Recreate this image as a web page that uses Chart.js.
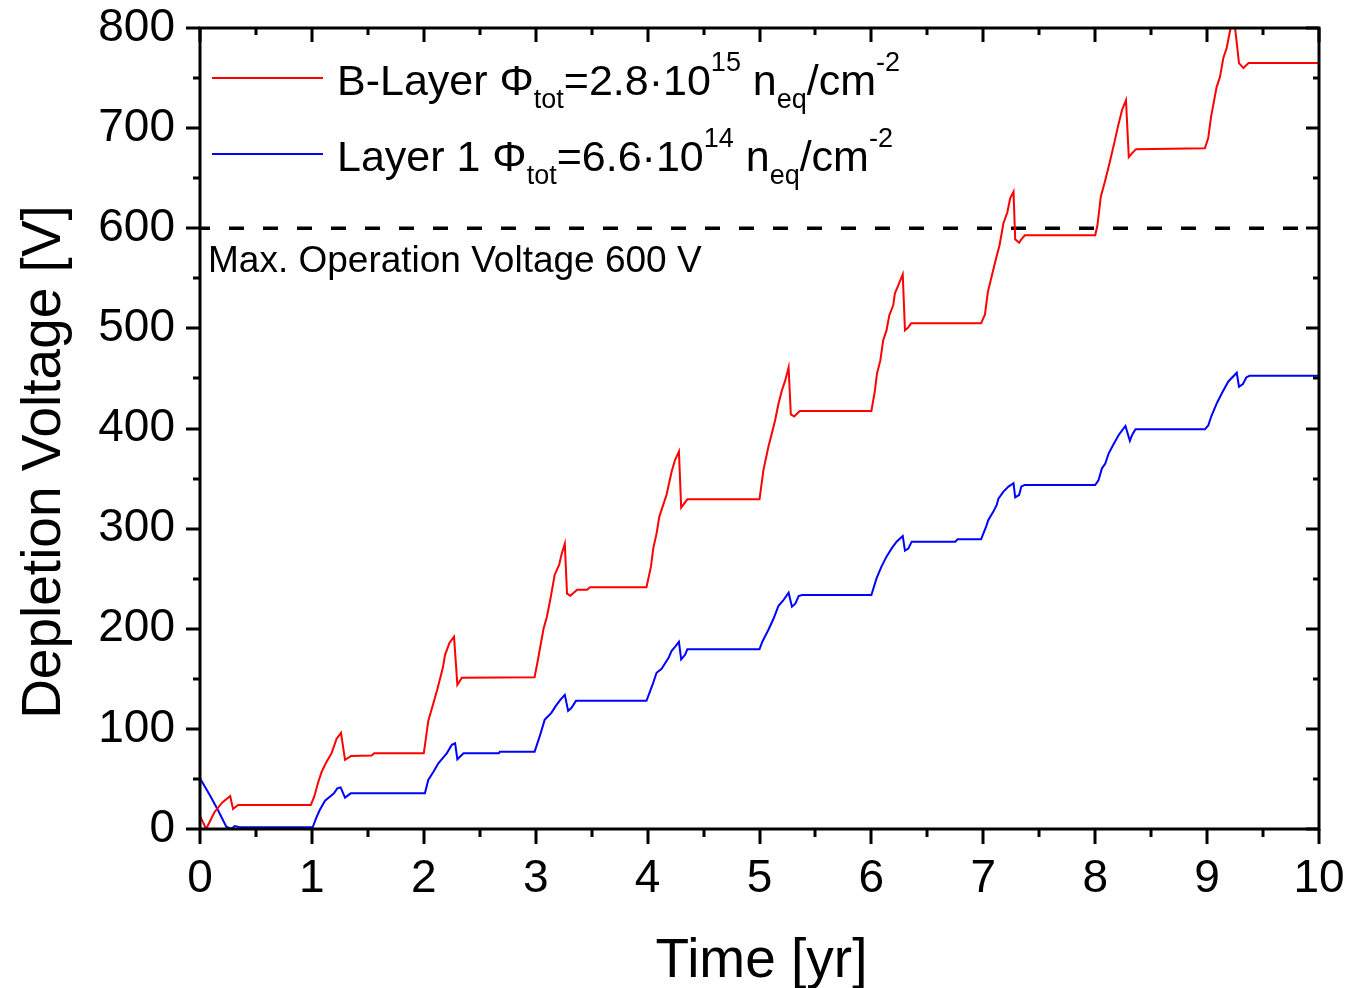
<html>

<head>
  <title>Depletion Voltage vs Time</title>
  <style>
    body {
      margin: 0;
      background: #fff;
    }
    .canvas {
      width: 1349px;
      height: 988px;
      position: relative;
    }
  </style>
  <script src="https://cdn.jsdelivr.net/npm/chart.js@4.4.1/dist/chart.umd.min.js"></script>
</head>

<body>
  <div class="canvas">
    <canvas id="chart"></canvas>
  </div>

  <script>
    // B-Layer depletion voltage [V] against time [yr]
    const bLayerTime = [0.0, 0.055, 0.13, 0.2, 0.27, 0.295, 0.34, 0.99, 1.02, 1.057, 1.087, 1.13, 1.177, 1.22, 1.26, 1.296, 1.35, 1.534, 1.557,
      2.0, 2.04, 2.12, 2.17, 2.19, 2.23, 2.27, 2.30, 2.34, 2.99, 3.02, 3.07, 3.10, 3.13, 3.17, 3.21, 3.23, 3.26, 3.28, 3.31, 3.37, 3.46, 3.485,
      3.99, 4.03, 4.05, 4.08, 4.105, 4.17, 4.215, 4.245, 4.28, 4.30, 4.32, 4.355, 5.0, 5.035, 5.08, 5.11, 5.14, 5.17, 5.2, 5.23, 5.26, 5.28, 5.31, 5.36,
      6.0, 6.03, 6.05, 6.08, 6.105, 6.135, 6.16, 6.195, 6.21, 6.24, 6.28, 6.30, 6.33, 6.355, 6.98, 7.015, 7.04, 7.075, 7.11, 7.145, 7.18, 7.215, 7.24, 7.27,
      7.285, 7.32, 7.34, 7.37, 8.0, 8.02, 8.05, 8.09, 8.13, 8.17, 8.2, 8.24, 8.275, 8.30, 8.33, 8.365, 8.98, 9.01, 9.035, 9.085, 9.115, 9.145, 9.175,
      9.21, 9.235, 9.285, 9.325, 9.37, 10.0];
    const bLayerVolt = [13, 0, 17, 26.6, 33, 20, 24, 24, 32, 47, 57, 67, 76, 90, 96, 69, 73, 73.5, 75.6,
      75.6, 108, 139, 161, 174, 186, 192, 144, 151, 151.5, 169, 200, 212, 229, 254, 264, 274, 285, 235, 233, 239, 239, 241.4,
      241.4, 262, 280, 295, 312, 334, 357, 368.5, 377, 321, 324, 329.3, 329.3, 358.5, 382, 395, 408.5, 425, 438, 448, 461, 414, 412, 417.5,
      417.5, 436.7, 455, 468, 488, 498, 513, 523, 535, 543, 554, 498, 501, 505, 505, 514, 536, 552, 568, 583, 605, 616, 630, 636.5,
      589, 585.5, 589, 593, 593, 603, 631.5, 648, 666, 685, 700, 718, 728, 671, 675, 679, 679.8, 690, 711, 741, 751, 770, 780,
      800, 815, 765, 760, 765, 765];

    // Layer 1 depletion voltage [V] against time [yr]
    const layer1Time = [0.0, 0.087, 0.16, 0.235, 0.28, 0.31, 0.355, 1.007, 1.037, 1.07, 1.117, 1.16, 1.197, 1.227, 1.257, 1.296, 1.347,
      2.01, 2.04, 2.085, 2.13, 2.175, 2.205, 2.25, 2.28, 2.30, 2.355, 2.67, 2.68, 2.99, 3.04, 3.08, 3.14, 3.18, 3.22, 3.26, 3.29, 3.32, 3.36,
      3.99, 4.02, 4.05, 4.08, 4.125, 4.185, 4.215, 4.245, 4.28, 4.30, 4.335, 4.355, 5.0, 5.025, 5.08, 5.125, 5.17, 5.21, 5.26, 5.29, 5.32, 5.35, 5.38,
      6.0, 6.045, 6.09, 6.135, 6.18, 6.225, 6.28, 6.30, 6.33, 6.36, 6.75, 6.77, 6.98, 7.025, 7.045, 7.09, 7.12, 7.135, 7.18, 7.225, 7.27,
      7.285, 7.32, 7.34, 7.37, 8.0, 8.03, 8.06, 8.09, 8.12, 8.16, 8.21, 8.27, 8.31, 8.33, 8.36, 8.98, 9.01, 9.04, 9.09, 9.14, 9.19, 9.265,
      9.285, 9.32, 9.35, 9.38, 10.0];
    const layer1Volt = [50.6, 34, 19, 2.3, 0, 3, 1.7, 1.7, 10.7, 19, 28.3, 32.3, 35.6, 40.6, 41.6, 31.3, 35.6,
      35.6, 49, 57, 65.6, 71.6, 75.6, 84, 85.6, 69.6, 75.6, 75.6, 77.2, 77.2, 94, 109, 116, 123, 129, 134, 118, 121, 128,
      128, 137, 146, 156, 160, 170.5, 178, 182, 187, 169.5, 174, 179.5, 179.5, 187, 199, 210, 223, 228, 236, 222, 225, 232.7, 233.7,
      233.7, 250, 262, 272, 280, 287, 292.6, 278, 280, 287, 287, 289.3, 289.3, 302, 308.6, 317, 323.6, 330, 337, 342, 345.3,
      331.3, 333.6, 342, 343.6, 343.6, 348.5, 360, 365, 375, 383.5, 393.5, 402.5, 387.7, 393.5, 399.2, 399.2, 403, 413, 426, 437, 447, 455.7,
      441.7, 444.4, 451, 452.7, 452.7];

    const maxVoltage = 600;
    const maxVoltageLabel = 'Max. Operation Voltage 600 V';
    const xTitle = 'Time [yr]';
    const yTitle = 'Depletion Voltage [V]';

    // legend text pieces: [text, kind]
    const bLayerLabel = [['B-Layer ', 'n'], ['\u03A6', 'n'], ['tot', 'sub'], ['=2.8\u00B710', 'n'], ['15', 'sup'], [' n', 'n'], ['eq', 'sub'], ['/cm', 'n'], ['-2', 'sup']];
    const layer1Label = [['Layer 1 ', 'n'], ['\u03A6', 'n'], ['tot', 'sub'], ['=6.6\u00B710', 'n'], ['14', 'sup'], [' n', 'n'], ['eq', 'sub'], ['/cm', 'n'], ['-2', 'sup']];

    const FONT = '"Liberation Sans", Arial, sans-serif';
    const colors = { red: '#ff0000', blue: '#0000ff', black: '#000000' };

    const toPoints = (xs, ys) => xs.map((x, i) => ({ x, y: ys[i] }));

    function drawRich(ctx, x, y, parts) {
      ctx.textAlign = 'left';
      ctx.textBaseline = 'alphabetic';
      parts.forEach(([txt, kind]) => {
        const size = kind === 'n' ? 43 : 27;
        const dy = kind === 'sub' ? 13 : kind === 'sup' ? -24 : 0;
        ctx.font = size + 'px ' + FONT;
        ctx.fillText(txt, x, y + dy);
        x += ctx.measureText(txt).width;
      });
    }

    // box, mirrored ticks, titles, legend and limit label
    const decorations = {
      id: 'decorations',
      afterDatasetsDraw(chart) {
        const { ctx, chartArea: a, scales } = chart;
        const xs = scales.x;
        const ys = scales.y;
        ctx.save();
        ctx.strokeStyle = colors.black;
        ctx.lineWidth = 3;
        ctx.lineCap = 'butt';
        ctx.beginPath();
        for (let v = 0; v <= 10.001; v += 0.5) {
          const px = Math.round(xs.getPixelForValue(v));
          const major = Math.abs(v - Math.round(v)) < 1e-6;
          const out = major ? 15 : 8;
          const inn = major ? 14 : 7;
          ctx.moveTo(px, a.bottom);
          ctx.lineTo(px, a.bottom + out);
          ctx.moveTo(px, a.top);
          ctx.lineTo(px, a.top + inn);
        }
        for (let v = 0; v <= 800; v += 50) {
          const py = Math.round(ys.getPixelForValue(v));
          const major = v % 100 === 0;
          const out = major ? 14 : 7;
          const inn = major ? 13 : 6;
          ctx.moveTo(a.left, py);
          ctx.lineTo(a.left - out, py);
          ctx.moveTo(a.right, py);
          ctx.lineTo(a.right - inn, py);
        }
        ctx.stroke();
        ctx.strokeRect(a.left, a.top, a.right - a.left, a.bottom - a.top);

        ctx.fillStyle = colors.black;
        // limit label under the dashed line
        ctx.font = '37px ' + FONT;
        ctx.textAlign = 'left';
        ctx.textBaseline = 'alphabetic';
        ctx.fillText(maxVoltageLabel, a.left + 8, ys.getPixelForValue(maxVoltage) + 44);

        // axis titles
        ctx.font = '55px ' + FONT;
        ctx.textAlign = 'center';
        ctx.fillText(xTitle, (a.left + a.right) / 2 + 2, 977);
        ctx.save();
        ctx.translate(60, 462);
        ctx.rotate(-Math.PI / 2);
        ctx.fillText(yTitle, 0, 0);
        ctx.restore();

        // legend
        const entries = [[colors.red, bLayerLabel], [colors.blue, layer1Label]];
        entries.forEach(([c, parts], i) => {
          const ly = a.top + 50 + i * 76;
          ctx.strokeStyle = c;
          ctx.lineWidth = 2;
          ctx.beginPath();
          ctx.moveTo(a.left + 12, ly);
          ctx.lineTo(a.left + 123, ly);
          ctx.stroke();
          ctx.fillStyle = colors.black;
          drawRich(ctx, a.left + 137, ly + 17, parts);
        });
        ctx.restore();
      }
    };

    window.chartObj = new Chart(document.querySelector('canvas#chart'), {
      type: 'line',
      data: {
        datasets: [{
            label: 'B-Layer',
            data: toPoints(bLayerTime, bLayerVolt),
            borderColor: colors.red,
            backgroundColor: colors.red,
            borderWidth: 2,
            pointRadius: 0,
            fill: false,
          },
          {
            label: 'Layer 1',
            data: toPoints(layer1Time, layer1Volt),
            borderColor: colors.blue,
            backgroundColor: colors.blue,
            borderWidth: 2,
            pointRadius: 0,
            fill: false,
          },
          {
            label: 'Max. Operation Voltage',
            data: [{ x: 0, y: maxVoltage }, { x: 10, y: maxVoltage }],
            borderColor: colors.black,
            borderWidth: 3.5,
            borderDash: [15, 19],
            borderDashOffset: 5,
            pointRadius: 0,
            fill: false,
          },
        ],
      },
      options: {
        responsive: true,
        maintainAspectRatio: false,
        animation: false,
        layout: {
          padding: { top: 28, right: 30, left: 0, bottom: 0 },
        },
        plugins: {
          legend: { display: false },
          tooltip: { enabled: false },
        },
        scales: {
          x: {
            type: 'linear',
            min: 0,
            max: 10,
            grid: { display: false, drawTicks: false },
            border: { display: false },
            ticks: {
              stepSize: 1,
              padding: 23,
              color: colors.black,
              font: { family: FONT, size: 46 },
              maxRotation: 0,
            },
            afterFit(scale) {
              scale.height = 159;
              scale.paddingLeft = 0;
              scale.paddingRight = 0;
            },
          },
          y: {
            min: 0,
            max: 800,
            grid: { display: false, drawTicks: false },
            border: { display: false },
            ticks: {
              stepSize: 100,
              padding: 25,
              color: colors.black,
              font: { family: FONT, size: 46 },
            },
            afterFit(scale) {
              scale.width = 200;
              scale.paddingTop = 0;
              scale.paddingBottom = 0;
            },
          },
        },
      },
      plugins: [decorations],
    });
  </script>
</body>

</html>
